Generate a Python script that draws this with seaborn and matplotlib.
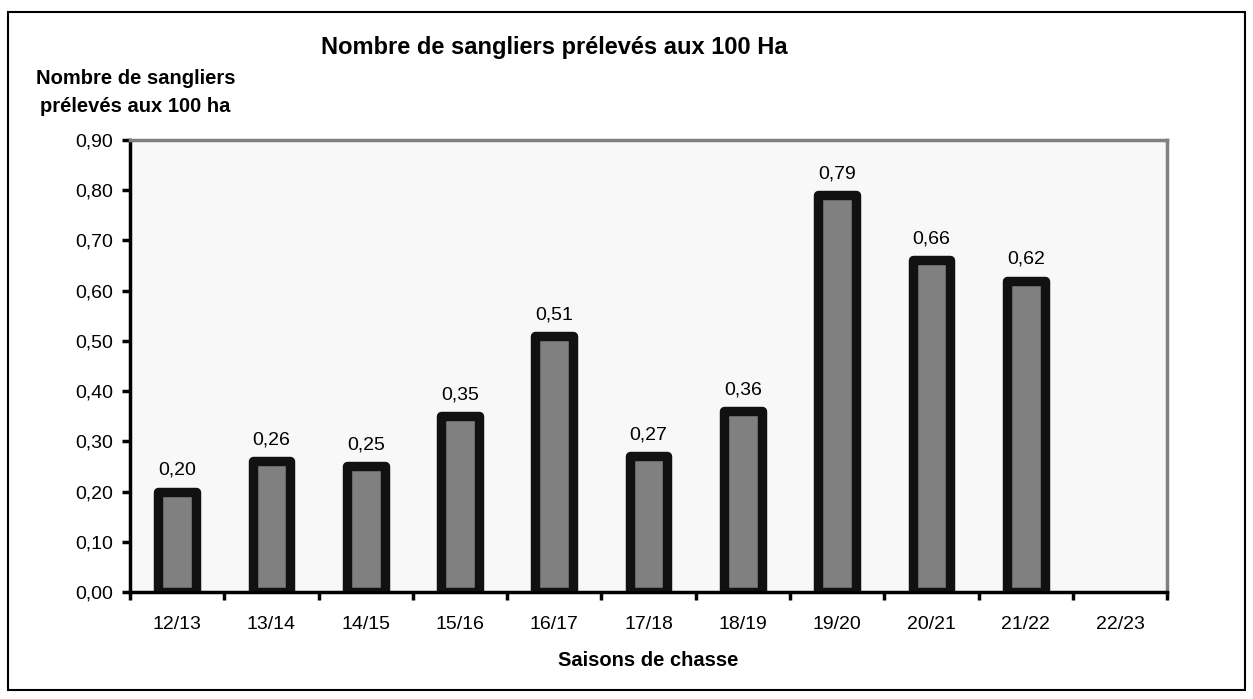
import numpy as np
import pandas as pd
import matplotlib
matplotlib.use("Agg")
import matplotlib.pyplot as plt
import seaborn as sns
from matplotlib.patches import Rectangle

saisons = ["12/13", "13/14", "14/15", "15/16", "16/17", "17/18",
           "18/19", "19/20", "20/21", "21/22", "22/23"]
prelevements = [0.20, 0.26, 0.25, 0.35, 0.51, 0.27, 0.36, 0.79, 0.66, 0.62, np.nan]
graduations = [0.0, 0.1, 0.2, 0.3, 0.4, 0.5, 0.6, 0.7, 0.8, 0.9]

sns.set_theme(style="white")
plt.rcParams["font.family"] = ["Liberation Sans", "DejaVu Sans"]
plt.rcParams["text.color"] = "black"
plt.rcParams["xtick.color"] = "black"
plt.rcParams["ytick.color"] = "black"
plt.rcParams["axes.labelcolor"] = "black"

df = pd.DataFrame({"saison": saisons, "valeur": prelevements})

fig = plt.figure(figsize=(12.53, 6.99), dpi=100)
ax = fig.add_axes([0.1038, 0.153, 0.8277, 0.647])
ax.set_facecolor("#f8f8f8")

sns.barplot(data=df, x="saison", y="valeur", ax=ax, color="#808080",
            saturation=1, width=0.4, edgecolor="#111111", linewidth=6.8)
for p in ax.patches:
    p.set_joinstyle("round")

# value labels above each bar
for i, v in enumerate(prelevements):
    if not np.isnan(v):
        ax.text(i, v + 0.025, f"{v:.2f}".replace(".", ","), ha="center",
                va="bottom", fontsize=14, color="black")

ax.set_xlim(-0.5, len(saisons) - 0.5)
ax.set_ylim(0, 0.9)
ax.set_yticks(graduations)
ax.set_yticklabels([f"{g:.2f}".replace(".", ",") for g in graduations], fontsize=14)
ax.set_xticks(range(len(saisons)))
ax.set_xticklabels(saisons, fontsize=14)
ax.tick_params(axis="x", which="major", length=0, pad=17)
ax.set_xticks(np.arange(-0.5, len(saisons), 1), minor=True)
ax.tick_params(axis="x", which="minor", length=6, width=2.5, color="black",
               direction="out", bottom=True)
ax.tick_params(axis="y", length=6, width=2.5, color="black", direction="out",
               left=True, pad=6)

for side in ["left", "bottom"]:
    ax.spines[side].set_color("black")
    ax.spines[side].set_linewidth(2.5)
for side in ["top", "right"]:
    ax.spines[side].set_color("#808080")
    ax.spines[side].set_linewidth(2.5)

ax.set_xlabel("Saisons de chasse", fontsize=14.5, fontweight="bold", labelpad=13)
ax.set_ylabel("")

fig.text(0.442, 0.932, "Nombre de sangliers prélevés aux 100 Ha",
         ha="center", va="center", fontsize=17, fontweight="bold")
fig.text(0.108, 0.888, "Nombre de sangliers", ha="center", va="center",
         fontsize=14.5, fontweight="bold")
fig.text(0.108, 0.848, "prélevés aux 100 ha", ha="center", va="center",
         fontsize=14.5, fontweight="bold")

# outer frame of the figure
fig.patches.append(Rectangle((0.0065, 0.013), 0.987, 0.97, transform=fig.transFigure,
                             fill=False, edgecolor="black", linewidth=1.5))

fig.savefig("out.png", dpi=100)
